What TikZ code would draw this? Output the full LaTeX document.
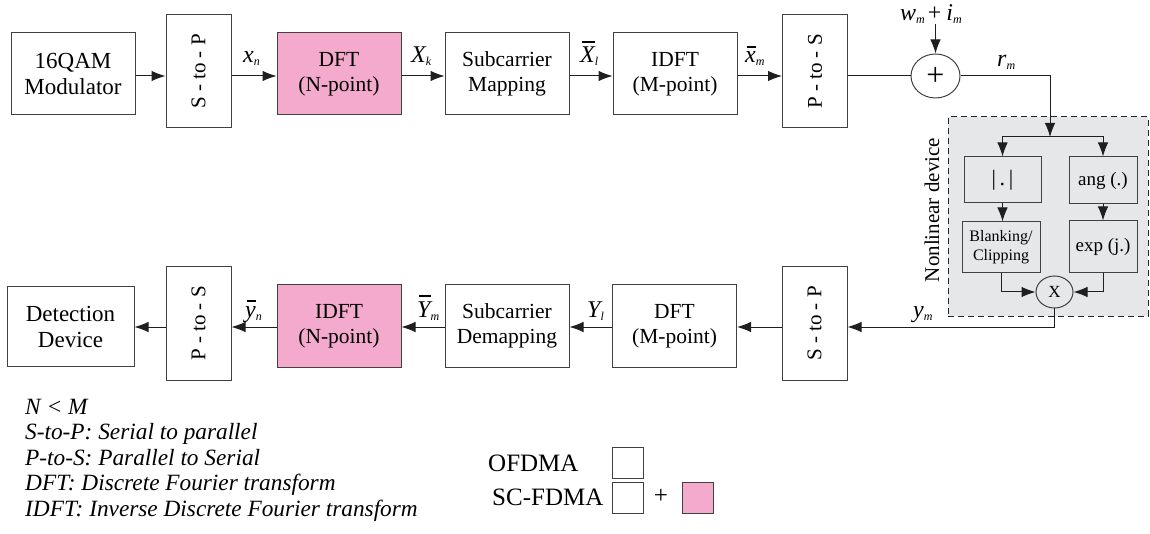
\documentclass[tikz,border=0pt]{standalone}
\usepackage{fontspec}
\setmainfont{Liberation Serif}
\usetikzlibrary{arrows.meta,shapes.geometric,calc}
\definecolor{pinkbox}{RGB}{243,170,204}
\definecolor{nlgray}{RGB}{230,231,233}
\definecolor{edge}{RGB}{65,65,65}
\newcommand{\Lb}[2]{{\fontsize{24}{24}\selectfont\itshape #1}\raisebox{-3pt}{\fontsize{12}{12}\selectfont\itshape #2}}
\newcommand{\Lbar}[2]{\setbox0=\hbox{\fontsize{24}{24}\selectfont\itshape #1}\rlap{\hspace{2pt}\raisebox{\dimexpr\ht0+4pt\relax}{\rule{\dimexpr\wd0-2pt\relax}{1.8pt}}}\box0\raisebox{-3pt}{\fontsize{12}{12}\selectfont\itshape #2}}
\begin{document}
\begin{tikzpicture}[x=1pt,y=-1pt,
  blk/.style={draw=edge,line width=1pt,fill=white,rectangle,inner sep=0pt,align=center,font=\fontsize{21.5}{25}\selectfont},
  spbox/.style={blk,minimum width=65pt,minimum height=113pt,font=\fontsize{21}{24}\selectfont},
  wide/.style={blk,minimum width=124pt,minimum height=82pt},
  inbox/.style={draw=edge,line width=1pt,rectangle,inner sep=0pt,align=center},
  arr/.style={draw=black!88,line width=1pt,-{Latex[length=14pt,width=10.5pt]}},
  ln/.style={draw=black!88,line width=1pt},
  lab/.style={inner sep=0pt,anchor=base west},
  leg/.style={inner sep=0pt,anchor=base west,font=\fontsize{23.3}{23}\selectfont\itshape},
  legr/.style={inner sep=0pt,anchor=base west,font=\fontsize{25}{25}\selectfont},
  sq/.style={draw=edge,line width=1pt,minimum size=31pt,inner sep=0pt}]
\useasboundingbox (0,0) rectangle (1150,534);
\coordinate (ya) at (0,76);
\coordinate (yb) at (0,327);
% ---------- top row
\node[wide,font=\fontsize{23}{26}\selectfont] (mod) at (73,74) {16QAM\\Modulator};
\node[spbox] (s2p) at (198.5,71.5) {\rotatebox{90}{S - to - P}};
\node[wide,fill=pinkbox] (dft) at (339,74) {DFT\\(N-point)};
\node[wide] (scm) at (507,74) {Subcarrier\\Mapping};
\node[wide] (idft) at (675,74) {IDFT\\(M-point)};
\node[spbox] (p2s) at (815,71.5) {\rotatebox{90}{P - to - S}};
\node[draw=edge,ellipse,line width=1pt,minimum width=49pt,minimum height=44pt,inner sep=0pt,font=\fontsize{32}{32}\selectfont] (plus) at (935.5,76) {+};
\draw[arr] (mod.east |- ya) -- (s2p.west |- ya);
\draw[arr] (s2p.east |- ya) -- (dft.west |- ya);
\draw[arr] (dft.east |- ya) -- (scm.west |- ya);
\draw[arr] (scm.east |- ya) -- (idft.west |- ya);
\draw[arr] (idft.east |- ya) -- (p2s.west |- ya);
\draw[ln] (p2s.east |- ya) -- (plus.west);
\node[lab] (xn) at (243,63) {\Lb{x}{n}};
\node[lab] (Xk) at (411,63) {\Lb{X}{k}};
\node[lab] (Xl) at (580,63) {\Lbar{X}{l}};
\node[lab] (xm) at (745,63) {\Lbar{x}{m}};
\node[lab] (wi) at (900,21) {\Lb{w}{m}\hspace{3pt}{\fontsize{24}{24}\selectfont+}\hspace{5pt}\Lb{i}{m}};
\node[lab] (rm) at (997,67) {\Lb{r}{m}};
\draw[arr] (wi.south -| plus.north) -- (plus.north);
% ---------- nonlinear device
\node[draw=black!85,dash pattern=on 6pt off 4pt,line width=1pt,fill=nlgray,minimum width=200pt,minimum height=199pt,inner sep=0pt] (nl) at (1048,216.5) {};
\node[rotate=90,inner sep=0pt,font=\fontsize{21}{21}\selectfont] (nltext) at (932,210) {Nonlinear device};
\coordinate (split) at (1050,137);
\node[inbox,minimum width=77pt,minimum height=46pt,font=\fontsize{22}{24}\selectfont] (abs) at (1002.5,180) {|\,.\,|};
\node[inbox,minimum width=68pt,minimum height=47pt,font=\fontsize{19}{22}\selectfont] (ang) at (1103,180.5) {ang (.)};
\node[inbox,minimum width=78pt,minimum height=51pt,font=\fontsize{16}{19}\selectfont] (blank) at (1001,247.5) {Blanking/\\Clipping};
\node[inbox,minimum width=68pt,minimum height=52pt,font=\fontsize{19}{22}\selectfont] (exp) at (1103,247) {exp (j.)};
\node[draw=edge,ellipse,line width=1pt,minimum width=37pt,minimum height=32pt,inner sep=0pt,font=\fontsize{17}{17}\selectfont] (mult) at (1054.5,292) {X};
\draw[arr] (plus.east) -| (split);
\draw[arr] (split) -| (abs.north);
\draw[arr] (split) -| (ang.north);
\draw[arr] (abs.south) -- (abs.south |- blank.north);
\draw[arr] (ang.south) -- (ang.south |- exp.north);
\draw[arr] (blank.south) |- (mult.west);
\draw[arr] (exp.south) |- (mult.east);
% ---------- bottom row
\node[wide,minimum width=127pt,minimum height=79pt,font=\fontsize{23}{26}\selectfont] (det) at (70.5,326.5) {Detection\\Device};
\node[spbox] (p2s2) at (198.5,323.5) {\rotatebox{90}{P - to - S}};
\node[wide,fill=pinkbox] (idft2) at (339,326) {IDFT\\(N-point)};
\node[wide] (scd) at (507,326) {Subcarrier\\Demapping};
\node[wide] (dft2) at (674.5,326) {DFT\\(M-point)};
\node[spbox] (s2p2) at (814.5,323.5) {\rotatebox{90}{S - to - P}};
\draw[arr] (mult.south) |- (s2p2.east |- yb);
\draw[arr] (s2p2.west |- yb) -- (dft2.east |- yb);
\draw[arr] (dft2.west |- yb) -- (scd.east |- yb);
\draw[arr] (scd.west |- yb) -- (idft2.east |- yb);
\draw[arr] (idft2.west |- yb) -- (p2s2.east |- yb);
\draw[arr] (p2s2.west |- yb) -- (det.east |- yb);
\node[lab] (ym) at (913,317) {\Lb{y}{m}};
\node[lab] (Yl) at (587,317) {\Lb{Y}{l}};
\node[lab] (Ym) at (417,317) {\Lbar{Y}{m}};
\node[lab] (yn) at (245,317) {\Lbar{y}{n}};
% ---------- legend
\node[leg] (l1) at (25,414) {N < M};
\node[leg] (l2) at (25,439.5) {S-to-P: Serial to parallel};
\node[leg] (l3) at (25,465) {P-to-S: Parallel to Serial};
\node[leg] (l4) at (25,490.5) {DFT: Discrete Fourier transform};
\node[leg] (l5) at (25,516) {IDFT: Inverse Discrete Fourier transform};
\node[legr] (ofdma) at (488,471) {OFDMA};
\node[legr] (scfdma) at (492,505) {SC-FDMA};
\node[sq] (sq1) at (628,462.5) {};
\node[sq] (sq2) at (628,497.5) {};
\node[inner sep=0pt,font=\fontsize{25}{25}\selectfont] (lplus) at (661,496) {+};
\node[sq,fill=pinkbox] (sq3) at (698,497.5) {};
\end{tikzpicture}
\end{document}
